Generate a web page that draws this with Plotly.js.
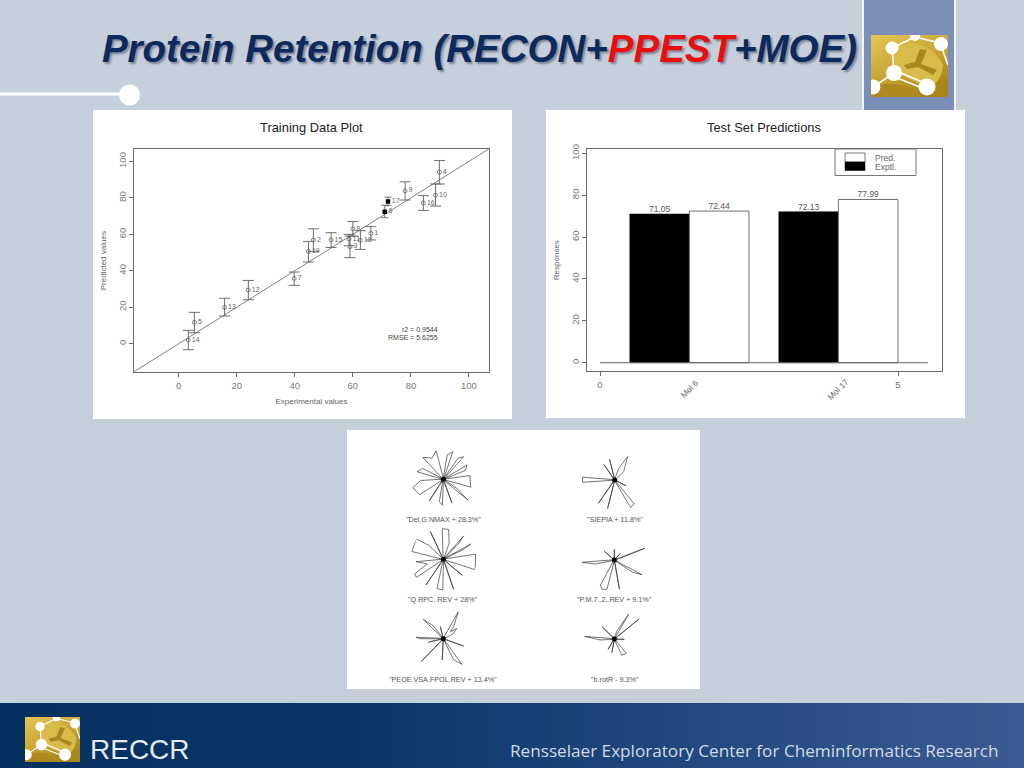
<!DOCTYPE html>
<html><head><meta charset="utf-8">
<script src="https://cdn.plot.ly/plotly-3.0.1.min.js"></script>
<style>
html,body{margin:0;padding:0;background:#c6cfdc;overflow:hidden}
#slide{position:absolute;left:0;top:0;width:1024px;height:768px;overflow:hidden;background:#c6cfdc}
#band{position:absolute;left:0;top:703px;width:1024px;height:65px;background:linear-gradient(90deg,#03305f 0%,#0a3768 35%,#244a80 70%,#3c5b92 100%)}
#tile{position:absolute;left:862px;top:-2px;width:90px;height:110px;background:#7b8eb7;border:2px solid #f4f6fa}
.logo{position:absolute}
#plot{position:absolute;left:0;top:0;width:1024px;height:768px}
</style></head><body>
<div id="slide">
<div id="band"></div>
<div id="tile"></div>
<svg width="0" height="0" style="position:absolute"><defs>
<linearGradient id="gold" x1="0" y1="0" x2="0.6" y2="1"><stop offset="0" stop-color="#e6c658"/><stop offset="0.55" stop-color="#c9a634"/><stop offset="1" stop-color="#a88519"/></linearGradient>
<symbol id="mol" viewBox="0 0 77 62" preserveAspectRatio="none">
<rect width="77" height="62" fill="url(#gold)"/>
<path d="M40 8 Q62 10 72 30 Q70 50 56 52 L25 38 L21 14Z" fill="#d8bb4a"/>
<path d="M33 30 L44 27 L49 14 L56 15 L50 29 L66 35 L62 40 L47 32 L36 34Z" fill="#a9861f"/>
<path d="M0 54 Q20 42 48 58 L50 62 L0 62Z" fill="#ae8a1e"/>
<g stroke="#fff" fill="none" stroke-width="1.6"><path d="M21 13 L23 38 M21 13 L44 2 M44 2 L69 8 M69 8 L77 30 M23 38 L2 52"/><path d="M23 35 L56 49 M21 41 L54 54"/></g>
<g fill="#fff"><circle cx="21" cy="13" r="6.5"/><circle cx="23" cy="38" r="8"/><circle cx="56" cy="52" r="8.5"/><circle cx="70" cy="9" r="7"/><circle cx="44" cy="1" r="5"/><circle cx="2" cy="52" r="7.5"/></g>
</symbol></defs></svg>
<svg class="logo" style="left:871px;top:35px" width="77" height="62"><use href="#mol" width="77" height="62"/></svg>
<svg class="logo" style="left:25px;top:717px" width="55" height="45"><use href="#mol" width="55" height="45"/></svg>
<div id="plot"></div>
</div>
<script>
// ---- training plot data ----
var trainLabels = ['14','5','13','12','7','19','2','15','3','11','8','18','1','9','16','10','4'];
var trainExp    = [3.3,5.4,15.8,24,39.8,44.7,46.4,52.5,59,58.7,60,62.6,66.2,78,84.3,88.5,89.8];
var trainPred   = [2,11.7,19.9,29.4,35.8,50.6,56.9,56.9,53.2,57.4,63,56.7,60.5,83.9,77.1,81.5,94.2];
var trainUpper  = [7.3,17.2,24.9,34.7,39.3,56.1,63,60.9,59,60,67,62,64.2,88.8,81.2,87.6,100.5];
var trainLower  = [-3.3,6,15.2,24.1,32,44.8,50.6,52.8,47.2,53.7,59,51.7,56.9,78.8,73.1,75.5,87.6];
var testLabels  = ['6','17'];
var testExp     = [71,72.1];
var testPred    = [72.4,78];
var testUpper   = [75.9,80.4];
var testLower   = [69.1,75.7];
var identityX   = [-15.3,106.8];
var scatterTicks = [0,20,40,60,80,100];
// ---- test-set bars ----
var barExptX = [1,3.5];
var barPredX = [2,4.5];
var barExpt  = [71.05,72.13];
var barPred  = [72.44,77.99];
var barCats  = ['Mol 6','Mol 17'];
var barCatX  = [1.5,4];
// ---- star glyphs (angle in degrees, radius) ----
var star1T=[344,8,14,22,31,37,48,55,60,71,81,90,104,118,133,142,152,164,172,183,195,213,221,237,243,260,268,278,290,297,320,326,335,344];
var star1R=[86,80,3,72,83,3,91,78,3,88,74,3,88,72,90,3,70,82,3,68,95,85,3,77,3,68,78,3,76,3,96,50,3,86];
var star2T=[342,9,20,26,29,39,46,49,60,70,80,92,103,115,128,136,143,166,176,185,196,207,214,222,236,247,258,269,279,289,305,320,331,342];
var star2R=[101,98,3,70,95,3,65,93,3,51,91,92,3,92,3,60,102,97,3,82,50,97,97,3,93,3,90,92,3,95,3,75,3,101];
var star3T=[26,37,45,49,61,75,104,118,128,136,150,177,180,188,193,205,226,245,267,285,296,306,320,340,355,26];
var star3R=[32,51,30,47,92,2,37,2,50,83,2,82,70,2,46,2,95,2,64,2,70,95,2,65,2,32];
var star4T=[43,61,71,85,104,115,125,150,175,184,200,235,245,256,275,300,309,320,333,350,43];
var star4R=[37,80,37,2,64,2,57,2,98,96,2,85,2,88,2,95,93,2,39,2,37];
var star5T=[21,35,48,70,90,115,139,165,184,192,215,241,247,256,268,280,300,318,326,332,340,21];
var star5R=[99,2,27,2,32,2,40,2,97,58,2,86,95,91,2,89,2,2,65,94,2,99];
var star6T=[39,50,60,72,90,135,150,175,184,200,239,250,260,275,295,310,325,358,15,39];
var star6R=[96,2,86,25,2,52,2,89,42,2,36,2,41,2,54,56,2,30,2,96];
var starNames=['"Del.G.NMAX + 28.3%"','"Q.RPC..REV + 28%"','"PEOE.VSA.FPOL.REV + 13.4%"','"SIEPIA + 11.8%"','"P.M.7..2..REV + 9.1%"','"b.rotR - 9.3%"'];
var starThetas=[star1T,star2T,star3T,star4T,star5T,star6T];
var starRadii=[star1R,star2R,star3R,star4R,star5R,star6R];

function X(p){return p/1024;}
function Y(p){return 1-p/768;}
var GREY='#6a6a6a', SANS='"Liberation Sans",Arial,sans-serif';
function txt(px,py,s,size,color,extra){
  return Object.assign({xref:'paper',yref:'paper',x:X(px),y:Y(py),text:s,showarrow:false,
    font:{family:SANS,size:size,color:color},xanchor:'center',yanchor:'middle'},extra||{});
}
function diff(a,b){return a.map(function(v,i){return Math.abs(v-b[i]);});}
function fmt(a){return a.map(function(v){return v.toFixed(2);});}

var traces=[
 {x:identityX,y:identityX,mode:'lines',line:{color:'#808080',width:1},xaxis:'x',yaxis:'y',hoverinfo:'skip'},
 {x:trainExp,y:trainPred,text:trainLabels,mode:'markers+text',textposition:'middle right',
  textfont:{family:SANS,size:7,color:'#666'},marker:{symbol:'circle-open',size:4,color:'#666',line:{width:0.8,color:'#666'}},
  error_y:{type:'data',symmetric:false,array:diff(trainUpper,trainPred),arrayminus:diff(trainPred,trainLower),color:'#5f5f5f',thickness:0.9,width:5.5},xaxis:'x',yaxis:'y'},
 {x:testExp,y:testPred,text:testLabels,mode:'markers+text',textposition:'middle right',
  textfont:{family:SANS,size:7,color:'#666'},marker:{symbol:'square',size:4.5,color:'#000'},
  error_y:{type:'data',symmetric:false,array:diff(testUpper,testPred),arrayminus:diff(testPred,testLower),color:'#5f5f5f',thickness:0.9,width:3.5},xaxis:'x',yaxis:'y'},
 {type:'bar',name:'Exptl.',x:barExptX,y:barExpt,width:1,marker:{color:'#000',line:{color:'#000',width:0.5}},xaxis:'x2',yaxis:'y2'},
 {type:'bar',name:'Pred.',x:barPredX,y:barPred,width:1,marker:{color:'#fff',line:{color:'#707070',width:1}},xaxis:'x2',yaxis:'y2'},
 {x:barExptX,y:barExpt,text:fmt(barExpt),mode:'text',textposition:'top center',cliponaxis:false,textfont:{family:SANS,size:8.5,color:'#555'},xaxis:'x2',yaxis:'y2'},
 {x:barPredX,y:barPred,text:fmt(barPred),mode:'text',textposition:'top center',cliponaxis:false,textfont:{family:SANS,size:8.5,color:'#555'},xaxis:'x2',yaxis:'y2'}
];
var layout={
 width:1024,height:768,margin:{l:0,r:0,t:0,b:0},paper_bgcolor:'rgba(0,0,0,0)',plot_bgcolor:'rgba(0,0,0,0)',showlegend:false,barmode:'overlay',
 title:{text:'<b><i>Protein Retention (RECON+<span style="color:#e8100f">PPEST</span>+MOE)</i></b>',x:X(479.5),xanchor:'center',y:Y(49),yanchor:'middle',
   font:{family:SANS,size:38.5,color:'#0d2a5e',shadow:'2px 2px 2px #7d8798'}},
 xaxis:{domain:[X(134.3),X(488.7)],range:[-15.3,106.8],tickvals:scatterTicks,ticks:'outside',ticklen:4,tickcolor:GREY,showgrid:false,zeroline:false,showline:true,mirror:true,linecolor:GREY,linewidth:1,
   tickfont:{family:SANS,size:9.5,color:'#777'},anchor:'y',title:{text:'Experimental values',standoff:8,font:{family:SANS,size:8,color:'#666'}}},
 yaxis:{domain:[Y(372.3),Y(149)],range:[-15.7,106.8],tickvals:scatterTicks,tickangle:-90,ticks:'outside',ticklen:4,tickcolor:GREY,showgrid:false,zeroline:false,showline:true,mirror:true,linecolor:GREY,linewidth:1,
   tickfont:{family:SANS,size:9.5,color:'#777'},anchor:'x',title:{text:'Predicted values',standoff:8,font:{family:SANS,size:8,color:'#666'}}},
 xaxis2:{domain:[X(587.3),X(941.7)],range:[-0.213,5.733],tickvals:[0,5],ticks:'outside',ticklen:4,tickcolor:GREY,showgrid:false,zeroline:false,showline:true,mirror:true,linecolor:GREY,linewidth:1,
   tickfont:{family:SANS,size:9.5,color:'#777'},anchor:'y2'},
 yaxis2:{domain:[Y(371.3),Y(149)],range:[-4.1,102.1],tickvals:scatterTicks,tickangle:-90,ticks:'outside',ticklen:4,tickcolor:GREY,showgrid:false,zeroline:false,showline:true,mirror:true,linecolor:GREY,linewidth:1,
   tickfont:{family:SANS,size:9.5,color:'#777'},anchor:'x2',title:{text:'Responses',standoff:8,font:{family:SANS,size:8,color:'#666'}}},
 shapes:[
  {type:'rect',layer:'below',xref:'paper',yref:'paper',x0:X(93),x1:X(512),y0:Y(419),y1:Y(110),fillcolor:'#fff',line:{width:0}},
  {type:'rect',layer:'below',xref:'paper',yref:'paper',x0:X(546),x1:X(965),y0:Y(418),y1:Y(110),fillcolor:'#fff',line:{width:0}},
  {type:'rect',layer:'below',xref:'paper',yref:'paper',x0:X(347),x1:X(700),y0:Y(689),y1:Y(430),fillcolor:'#fff',line:{width:0}},
  {type:'line',xref:'paper',yref:'paper',x0:X(0),x1:X(125),y0:Y(94),y1:Y(94),line:{color:'#fff',width:3}},
  {type:'circle',xref:'paper',yref:'paper',x0:X(119),x1:X(140),y0:Y(105.5),y1:Y(84.5),fillcolor:'#fff',line:{width:0}},
  {type:'line',xref:'x2',yref:'y2',x0:0,x1:5.5,y0:0,y1:0,line:{color:'#666',width:1}},
  {type:'rect',xref:'paper',yref:'paper',x0:X(835),x1:X(916),y0:Y(175.5),y1:Y(149),fillcolor:'#fff',line:{color:'#777',width:1}},
  {type:'rect',xref:'paper',yref:'paper',x0:X(845),x1:X(865),y0:Y(162),y1:Y(153),fillcolor:'#fff',line:{color:'#555',width:0.8}},
  {type:'rect',xref:'paper',yref:'paper',x0:X(845),x1:X(865),y0:Y(170.5),y1:Y(162),fillcolor:'#000',line:{color:'#000',width:0.5}}
 ],
 annotations:[
  txt(311.5,128,'Training Data Plot',12.9,'#222'),
  txt(764,128,'Test Set Predictions',12.9,'#222'),
  txt(440,329.5,'r2 = 0.9544',7,'#444',{xanchor:'right'}),
  txt(440,337.5,'RMSE = 5.6255',7,'#444',{xanchor:'right'}),
  txt(873,158,'Pred.',8.5,'#666',{xanchor:'left'}),
  txt(873,167,'Exptl.',8.5,'#666',{xanchor:'left'}),
  txt(140,749,'RECCR',28,'#e4eaf3'),
  txt(754.5,750,'Rensselaer Exploratory Center for Cheminformatics Research',17.15,'#d4dbe7',{font:{family:'"Open Sans",sans-serif',size:17.15,color:'#d4dbe7'}})
 ]
};
barCats.forEach(function(c,i){
  layout.annotations.push({xref:'x2',yref:'paper',x:barCatX[i],y:Y(389),text:c,textangle:-45,showarrow:false,font:{family:SANS,size:8.5,color:'#666'},xanchor:'center',yanchor:'middle'});
});
var starCX=[443.3,443.3,443.3,614.7,614.3,614.3], starCY=[479.3,559.3,638.7,480,560,639], labelX=[443,443,443,614.5,614.5,614.5], labelY=[519.5,599.5,679.5,519.5,599.5,679.5];
var R=100/3;
starNames.forEach(function(n,i){
  var key=i===0?'polar':'polar'+(i+1);
  layout[key]={domain:{x:[X(starCX[i]-R),X(starCX[i]+R)],y:[Y(starCY[i]+R),Y(starCY[i]-R)]},bgcolor:'rgba(0,0,0,0)',
    radialaxis:{visible:false,range:[0,100]},angularaxis:{visible:false}};
  traces.push({type:'scatterpolar',subplot:key,theta:starThetas[i],r:starRadii[i],mode:'lines',line:{color:'#3a3a3a',width:0.7},hoverinfo:'skip'});
  traces.push({type:'scatterpolar',subplot:key,theta:[0],r:[0],mode:'markers',marker:{color:'#000',size:5},hoverinfo:'skip'});
  layout.annotations.push(txt(labelX[i],labelY[i],n,7.2,'#555'));
});
Plotly.newPlot('plot',traces,layout,{displayModeBar:false,staticPlot:true});
</script>
</body></html>
